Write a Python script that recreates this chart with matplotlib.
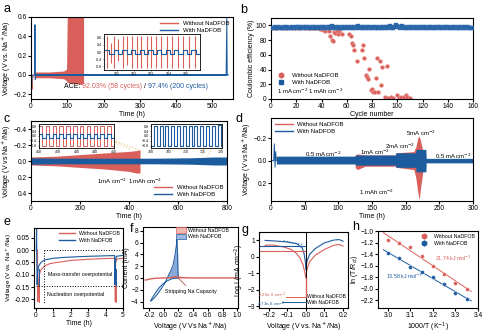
import numpy as np
import matplotlib.pyplot as plt
from matplotlib.offsetbox import TextArea, HPacker, AnchoredOffsetbox
from matplotlib.lines import Line2D
from matplotlib.patches import Patch

plt.rcParams['font.family'] = ['Liberation Sans', 'DejaVu Sans']
plt.rcParams['font.size'] = 5
plt.rcParams['axes.labelsize'] = 5
plt.rcParams['xtick.labelsize'] = 4.8
plt.rcParams['ytick.labelsize'] = 4.8
plt.rcParams['axes.linewidth'] = 0.8
plt.rcParams['xtick.major.size'] = 2
plt.rcParams['ytick.major.size'] = 2
plt.rcParams['xtick.major.pad'] = 1
plt.rcParams['ytick.major.pad'] = 1
plt.rcParams['axes.labelpad'] = 0.8

RED = '#d9605a'
BLUE = '#1c5b9e'
ORANGE = '#f0c27a'

# ---- panel a : long-term voltage profile
a_red_t = [8, 20, 50, 90, 98, 100, 140, 145]
a_red_hi = [0.03, 0.03, 0.03, 0.04, 0.06, 0.6, 0.6, 0.6]
a_red_lo = [-0.03, -0.03, -0.03, -0.04, -0.06, -0.08, -0.1, -0.08]
a_red_start_t = [0, 1, 2, 3, 5, 8]
a_red_start_v = [-0.05, -0.22, -0.1, -0.15, -0.03, 0.0]
a_blue_t = [0, 1, 1.5, 3, 5, 10, 11, 12, 13, 20, 538, 540, 541, 542, 545]
a_blue_v = [-0.2, 0.6, -0.12, -0.02, 0.0, 0.0, 0.52, -0.05, 0.0, 0.0, 0.0, 0.6, 0.0, 0.0, 0.0]
a_ins_blue = [0.12, -0.12, 0.12, -0.12, 0.12, -0.12, 0.12, -0.12, 0.12, -0.12, 0.12, -0.12,
              0.12, -0.12, 0.12, -0.12, 0.12, -0.12, 0.12, -0.12, 0.12, -0.12, 0.12]
a_ins_red_x = [0.3, 1.0, 1.6, 2.3, 3.1, 3.8, 4.6, 5.5, 6.3, 7.2, 8.0, 8.9, 9.8, 10.7, 11.7, 12.6, 13.6, 14.5, 15.6]
a_ins_red_hi = [0.9, 0.5, 0.9, 0.7, 0.9, 0.9, 0.9, 0.9, 0.9, 0.9, 0.9, 0.9, 0.9, 0.9, 0.9, 0.9, 0.9, 0.9, 0.9]
a_ins_red_lo = [-0.9, -0.6, -0.9, -0.5, -0.9, -0.7, -0.9, -0.9, -0.9, -0.9, -0.9, -0.9, -0.9, -0.9, -0.9, -0.9, -0.9, -0.9, -0.9]

# ---- panel b : coulombic efficiency
b_blue_ce = [97, 97, 98, 97, 97, 98, 97, 97, 97, 98, 97, 97, 98, 97, 96, 97, 98, 97, 97, 98,
             98, 97, 98, 97, 97, 98, 97, 98, 97, 98, 97, 96, 98, 97, 98, 97, 96, 98, 97, 98,
             97, 98, 96, 97, 98, 97, 98, 99, 97, 96, 98, 97, 98, 97, 97, 98, 96, 97, 98, 97,
             98, 97, 98, 96, 97, 98, 97, 98, 99, 97, 98, 97, 96, 98, 97, 98, 97, 98, 97, 96,
             98, 97, 98, 97, 97, 98, 97, 96, 98, 97, 98, 97, 98, 99, 97, 98, 97, 98, 100, 99,
             98, 97, 98, 99, 97, 98, 97, 96, 98, 97, 98, 97, 98, 97, 96, 98, 97, 98, 97, 98,
             97, 98, 97, 96, 98, 97, 98, 97, 96, 98, 97, 98, 97, 98, 97, 96, 98, 97, 98, 97,
             98, 97, 96, 98, 97, 98, 97, 96, 98, 97, 98, 97, 96, 98, 97, 98, 97, 96, 97, 96]
b_red_n = [1, 3, 5, 7, 9, 11, 13, 15, 17, 19, 21, 23, 25, 27, 29, 31, 33, 35, 37, 39,
           40, 41, 42, 43, 44, 46, 47, 48, 49, 50, 51, 52, 53, 54, 55, 56, 62, 63, 64, 65,
           66, 68, 72, 73, 74, 75, 76, 77, 78, 79, 80, 81, 82, 83, 84, 85, 86, 87, 88, 90,
           92, 93, 95, 97, 100, 101, 103, 105, 107, 108, 110]
b_red_ce = [97, 97, 97, 98, 97, 97, 97, 98, 97, 97, 97, 97, 98, 97, 97, 97, 96, 97, 97, 95,
            97, 94, 97, 92, 96, 93, 86, 80, 79, 91, 90, 94, 88, 92, 95, 88, 88, 85, 76, 74,
            67, 52, 66, 73, 56, 33, 30, 27, 41, 12, 14, 10, 9, 28, 55, 9, 52, 19, 44, 3,
            45, 2, 3, 2, 5, 2, 3, 3, 6, 3, 2]

# ---- panel c : symmetric cell 1 mA cm-2
c_red_t = [0, 100, 200, 300, 400, 430, 445]
c_red_top = [-0.05, -0.06, -0.08, -0.1, -0.12, -0.13, -0.14]
c_red_bot = [0.05, 0.06, 0.08, 0.1, 0.13, 0.15, 0.15]
c_blue_t = [0, 100, 300, 500, 650, 750, 800]
c_blue_top = [-0.04, -0.035, -0.035, -0.035, -0.04, -0.05, -0.05]
c_blue_bot = [0.04, 0.035, 0.035, 0.035, 0.04, 0.05, 0.05]
c_ins1_red = [0.8, -0.8, 0.8, -0.8, 0.8, -0.8, 0.8, -0.8, 0.8, -0.8, 0.8, -0.8, 0.8, -0.8,
              0.8, -0.8, 0.8, -0.8, 0.8, -0.8, 0.8, -0.8, 0.8]
c_ins1_blue = [0.15, -0.15, 0.15, -0.15, 0.15, -0.15, 0.15, -0.15, 0.15, -0.15, 0.15, -0.15,
               0.15, -0.15, 0.15, -0.15, 0.15, -0.15, 0.15, -0.15, 0.15, -0.15, 0.15]
c_ins2_blue = [-0.8, 0.8, -0.8, 0.8, -0.8, 0.8, -0.8, 0.8, -0.8, 0.8, -0.8, 0.8, -0.8,
               0.8, -0.8, 0.8, -0.8, 0.8, -0.8, 0.8, -0.8, 0.85, -0.8, 0.9, -0.8]

# ---- panel d : rate performance
d_blue_t = [8, 125, 125.5, 185, 185.5, 215, 215.5, 230, 230.5, 300]
d_blue_top = [-0.04, -0.04, -0.05, -0.05, -0.07, -0.07, -0.1, -0.1, -0.02, -0.02]
d_blue_bot = [0.03, 0.03, 0.04, 0.04, 0.06, 0.06, 0.1, 0.1, 0.02, 0.02]
d_red_t = [125, 128, 140, 185, 186, 212, 215, 218, 220, 222, 225, 226]
d_red_top = [-0.05, -0.06, -0.05, -0.05, -0.07, -0.08, -0.12, -0.2, -0.22, -0.18, -0.1, -0.02]
d_red_bot = [0.06, 0.08, 0.05, 0.05, 0.06, 0.08, 0.15, 0.28, 0.35, 0.25, 0.12, 0.02]
d_spike_t = [2, 4, 5, 6, 7, 8]
d_spike_v = [0.0, 0.0, -0.15, 0.06, -0.08, 0.0]

# ---- panel e : nucleation / mass-transfer
e_red_t = [0.1, 0.12, 0.15, 0.2, 0.3, 0.5, 0.8, 1.2, 2, 3, 4, 4.55, 4.56, 4.58, 4.65, 5]
e_red_v = [0.0, -0.21, -0.15, -0.1, -0.08, -0.065, -0.055, -0.05, -0.042, -0.037, -0.034,
           -0.033, -0.21, -0.05, -0.036, -0.033]
e_blue_t = [0.03, 0.05, 0.06, 0.08, 0.1, 0.15, 0.2, 0.3, 0.5, 1, 1.5, 2, 3, 4, 4.52,
            4.54, 4.56, 4.62, 5]
e_blue_v = [0.0, 0.095, -0.05, -0.14, -0.1, -0.07, -0.06, -0.05, -0.04, -0.033, -0.03,
            -0.028, -0.025, -0.023, -0.022, -0.14, -0.05, -0.025, -0.021]

# ---- panel f : CV
f_blue_v = [0.2, 0.15, 0.1, 0.05, 0.0, -0.05, -0.1, -0.14, -0.17, -0.175, -0.16, -0.12,
            -0.08, -0.03, 0.02, 0.06, 0.1, 0.13, 0.15, 0.165, 0.175, 0.18, 0.19, 0.195, 0.2]
f_blue_i = [0.0, -0.05, -0.2, -0.5, -0.9, -1.5, -2.3, -3.1, -3.7, -3.95, -3.8, -3.3,
            -2.7, -1.8, -0.8, 0.3, 1.3, 2.3, 3.6, 4.8, 5.8, 6.6, 4.0, 1.0, 0.0]
f_red_v = [-0.25, -0.22, -0.18, -0.1, 0.0, 0.1, 0.15, 0.2, 0.25, 0.4, 0.6, 0.8, 1.0]
f_red_i = [-0.35, -0.3, -0.15, -0.05, 0.0, 0.05, 0.2, 0.15, 0.05, 0.0, 0.0, 0.0, 0.0]

# ---- panel g : Tafel
g_red_v = [-0.22, -0.18, -0.12, -0.08, -0.05, -0.03, -0.015, -0.005, 0.0, 0.005, 0.02,
           0.05, 0.1, 0.15, 0.18, 0.2]
g_red_l = [0.7, 0.72, 0.6, 0.45, 0.2, -0.1, -0.5, -1.0, -1.3, -0.8, -0.3, 0.1, 0.45,
           0.7, 0.75, 0.65]
g_blue_v = [-0.22, -0.15, -0.1, -0.05, -0.02, -0.01, -0.003, 0.0, 0.005, 0.02, 0.05,
            0.1, 0.15, 0.18, 0.2]
g_blue_l = [1.0, 0.95, 0.9, 0.8, 0.55, 0.2, -0.3, -0.8, -0.3, 0.15, 0.5, 0.85, 1.02,
            1.05, 0.95]

# ---- panel h : Arrhenius
h_x = [3.0, 3.05, 3.1, 3.15, 3.2, 3.25, 3.3, 3.35]
h_red = [-1.15, -1.2, -1.28, -1.43, -1.6, -1.74, -1.89, -2.0]
h_blue = [-1.38, -1.47, -1.62, -1.7, -1.8, -1.92, -2.07, -2.17]

W, H = 487, 334
fig = plt.figure(figsize=(W / 100, H / 100), dpi=100)


def px_axes(l, t, r, b):
    return fig.add_axes([l / W, 1 - b / H, (r - l) / W, (b - t) / H])


def label(x, y, s):
    fig.text(x / W, 1 - y / H, s, fontsize=9, va='center', ha='left')


def tiny(ax):
    ax.tick_params(labelsize=2.5, length=1, width=0.4, pad=0.5)
    for s in ax.spines.values():
        s.set_linewidth(0.6)


def two_lines(ax, loc, fs=4.3, **kw):
    ax.legend(handles=[Line2D([], [], color=RED, lw=1), Line2D([], [], color=BLUE, lw=1)],
              labels=['Without NaDFOB', 'With NaDFOB'], loc=loc, frameon=False,
              fontsize=fs, handlelength=3, borderaxespad=0.2, labelspacing=0.3, **kw)


# a
ax = px_axes(31, 17, 233, 99)
ax.fill_between(a_red_t, a_red_lo, a_red_hi, color=RED, lw=0)
ax.plot(a_red_start_t, a_red_start_v, color=RED, lw=0.6)
ax.fill_between([10, 540], [-0.012, -0.012], [0.012, 0.012], color=BLUE, lw=0)
ax.plot(a_blue_t, a_blue_v, color=BLUE, lw=0.7)
ax.set_xlim(0, 557)
ax.set_ylim(-0.25, 0.6)
ax.set_xticks([0, 100, 200, 300, 400, 500])
ax.set_yticks([-0.2, 0.0, 0.2, 0.4, 0.6])
ax.set_xlabel('Time (h)')
ax.set_ylabel('Voltage (V vs. Na$^+$/Na)')
two_lines(ax, 'upper right')
parts = [TextArea('ACE: ', textprops=dict(color='k', fontsize=5)),
         TextArea('92.03% (58 cycles)', textprops=dict(color=RED, fontsize=5)),
         TextArea(' / ', textprops=dict(color='k', fontsize=5)),
         TextArea('97.4% (200 cycles)', textprops=dict(color=BLUE, fontsize=5))]
box = AnchoredOffsetbox(loc='lower center', child=HPacker(children=parts, pad=0, sep=0),
                        frameon=False, bbox_to_anchor=(0.52, 0.03), bbox_transform=ax.transAxes)
ax.add_artist(box)
label(3, 9, 'a')

ins = px_axes(104, 34, 200, 70)
ins.vlines(a_ins_red_x, a_ins_red_lo, a_ins_red_hi, color=RED, lw=0.8)
ins.step(np.arange(len(a_ins_blue)) * 0.75, a_ins_blue, where='post', color=BLUE, lw=0.8)
ins.set_xlim(-0.2, 16.5)
ins.set_ylim(-1, 1)
ins.set_xticks([2, 5, 8, 11, 14])
ins.set_xticklabels(['101', '102', '103', '104', '105'])
ins.set_yticks([-0.8, -0.4, 0.0, 0.4, 0.8])
ins.set_yticklabels(['-0.8', '-0.4', '0.0', '0.4', '0.8'])
tiny(ins)

# b
ax = px_axes(271, 18, 473, 99)
ax.scatter(np.arange(1, len(b_blue_ce) + 1), b_blue_ce, s=6, marker='s', color=BLUE,
           edgecolors='#4a7fbf', linewidths=0.3, zorder=3)
ax.scatter(b_red_n, b_red_ce, s=9, marker='h', color=RED, edgecolors='#e89490',
           linewidths=0.4, zorder=2)
ax.set_xlim(0, 160)
ax.set_ylim(0, 110)
ax.set_xticks(range(0, 161, 20))
ax.set_yticks(range(0, 101, 20))
ax.set_xlabel('Cycle number')
ax.set_ylabel('Coulombic efficiency (%)')
ax.legend(handles=[Line2D([], [], marker='h', color=RED, ls='', ms=3.5),
                   Line2D([], [], marker='s', color=BLUE, ls='', ms=3)],
          labels=['Without NaDFOB', 'With NaDFOB'], loc='lower left', frameon=False,
          fontsize=4.3, bbox_to_anchor=(0.0, 0.12), borderaxespad=0.3, labelspacing=0.3,
          handletextpad=0.8)
ax.text(0.03, 0.06, '1 mA cm$^{-2}$ 1 mAh cm$^{-2}$', transform=ax.transAxes, fontsize=4.3)
label(240, 10, 'b')

# c
ax = px_axes(31, 121, 227, 201)
ax.fill_between(c_red_t, c_red_bot, c_red_top, color=RED, lw=0)
ax.fill_between(c_blue_t, c_blue_bot, c_blue_top, color=BLUE, lw=0)
ax.set_xlim(0, 800)
ax.set_ylim(0.5, -0.5)
ax.set_xticks([0, 200, 400, 600, 800])
ax.set_yticks([-0.4, -0.2, 0.0, 0.2, 0.4])
ax.set_xlabel('Time (h)')
ax.set_ylabel('Voltage (V vs Na$^+$/Na)')
ax.plot([268, 410], [-0.34, -0.14], color=ORANGE, ls=':', lw=0.8)
ax.plot([268, 440], [-0.34, -0.14], color=ORANGE, ls=':', lw=0.8)
ax.plot([710, 700], [-0.32, -0.06], color=ORANGE, ls=':', lw=0.8)
ax.plot([770, 720], [-0.32, -0.06], color=ORANGE, ls=':', lw=0.8)
ax.text(400, 0.28, '1mA cm$^{-2}$  1mAh cm$^{-2}$', fontsize=4.3, ha='center')
two_lines(ax, 'lower right')
label(3, 119, 'c')

ins = px_axes(39, 124, 114, 148)
ins.step(np.arange(len(c_ins1_red)), c_ins1_red, where='post', color=RED, lw=0.7)
ins.step(np.arange(len(c_ins1_blue)), c_ins1_blue, where='post', color=BLUE, lw=0.8)
ins.set_xlim(0, 22)
ins.set_ylim(-1, 1)
ins.set_xticks([0, 5.5, 11, 16.5, 22])
ins.set_xticklabels(['410', '420', '430', '440', '450'])
ins.set_yticks([-0.8, -0.4, 0, 0.4, 0.8])
tiny(ins)

ins = px_axes(151, 124, 222, 148)
ins.step(np.arange(len(c_ins2_blue)), c_ins2_blue, where='post', color=BLUE, lw=0.8)
ins.set_xlim(0, 24.5)
ins.set_ylim(-1, 1)
ins.set_xticks([0, 6, 12, 18, 24])
ins.set_xticklabels(['700', '705', '710', '715', '720'])
ins.set_yticks([-0.8, -0.4, 0, 0.4, 0.8])
tiny(ins)

# d
ax = px_axes(271, 118, 473, 201)
ax.fill_between(d_red_t, d_red_bot, d_red_top, color=RED, lw=0)
ax.fill_between(d_blue_t, d_blue_bot, d_blue_top, color=BLUE, lw=0)
ax.plot(d_spike_t, d_spike_v, color=BLUE, lw=0.7)
ax.set_xlim(0, 300)
ax.set_ylim(0.36, -0.38)
ax.set_xticks(range(0, 301, 50))
ax.set_yticks([-0.2, 0.0, 0.2])
ax.set_xlabel('Time (h)')
ax.set_ylabel('Voltage (V vs Na$^+$/Na)')
for tx, ty, s in [(78, -0.06, '0.5 mA cm$^{-2}$'), (155, -0.07, '1mA cm$^{-2}$'),
                  (192, -0.13, '2mA cm$^{-2}$'), (222, -0.24, '5mA cm$^{-2}$'),
                  (271, -0.04, '0.5 mA cm$^{-2}$'), (156, 0.28, '1 mAh cm$^{-2}$')]:
    ax.text(tx, ty, s, fontsize=4.3, ha='center', va='center')
two_lines(ax, 'upper left')
label(236, 119, 'd')

# e
ax = px_axes(34, 228, 123, 308)
ax.plot(e_red_t, e_red_v, color=RED, lw=0.8)
ax.plot(e_blue_t, e_blue_v, color=BLUE, lw=0.8)
ax.plot([0.45, 5], [0, 0], color='k', ls=':', lw=0.7)
ax.plot([0.0, 5], [-0.145, -0.145], color='k', ls=':', lw=0.7)
ax.plot([0.45, 0.45], [0, -0.22], color='k', ls=':', lw=0.7)
for bx in [0.2, 4.6]:
    ax.plot([bx, bx], [-0.075, -0.14], color=BLUE, lw=0.7)
    ax.plot([bx, bx], [-0.15, -0.21], color=RED, lw=0.7)
ax.text(2.55, -0.1, 'Mass-transfer overpotential', fontsize=3.8, ha='center', va='center')
ax.text(2.3, -0.18, 'Nucleation overpotential', fontsize=3.8, ha='center', va='center')
ax.set_xlim(-0.1, 5)
ax.set_ylim(-0.235, 0.09)
ax.set_xticks(range(0, 6))
ax.set_yticks([-0.2, -0.15, -0.1, -0.05, 0.0, 0.05])
ax.set_yticklabels(['-0.20', '-0.15', '-0.10', '-0.05', '0.00', '0.05'])
ax.set_xlabel('Time (h)')
ax.set_ylabel('Voltage (V vs. Na$^+$/Na)', fontsize=4.6)
two_lines(ax, 'upper right', fs=3.8)
label(3, 222, 'e')

# f
ax = px_axes(143, 227, 238, 308)
ax.fill(f_blue_v, f_blue_i, color='#d3e0f2', lw=0)
ax.fill_between(f_blue_v[14:], 0, np.clip(f_blue_i[14:], 0, None), color='#88a8d8', lw=0)
ax.plot(f_blue_v, f_blue_i, color=BLUE, lw=0.7)
ax.fill_between(f_red_v[5:9], 0, f_red_i[5:9], color=RED, lw=0, alpha=0.6)
ax.plot(f_red_v, f_red_i, color=RED, lw=1)
ax.plot([0.2, 0.3], [0.0, -1.3], color='#b0584f', lw=0.6)
ax.text(0.37, -2.3, 'Stripping Na Capacity', fontsize=3.8, ha='center', va='center')
ax.set_xlim(-0.28, 1.01)
ax.set_ylim(-5.1, 8.65)
ax.set_xticks([-0.2, 0.0, 0.2, 0.4, 0.6, 0.8, 1.0])
ax.set_xticklabels(['-0.2', '0.0', '0.2', '0.4', '0.6', '0.8', '1.0'])
ax.set_yticks([-4, -2, 0, 2, 4, 6, 8])
ax.set_xlabel('Voltage (V Vs Na$^+$/Na)')
ax.set_ylabel('Current (mA)')
ax.legend(handles=[Patch(facecolor='#f2b8b4', edgecolor=RED, lw=0.5),
                   Patch(facecolor='#9fb8e0', edgecolor=BLUE, lw=0.5)],
          labels=['Without NaDFOB', 'With NaDFOB'], loc='upper left', frameon=False,
          fontsize=3.8, bbox_to_anchor=(0.32, 1.02), handlelength=2, handleheight=1.2,
          labelspacing=0.15, handletextpad=0.3, borderaxespad=0)
label(130, 229, 'f')

# g
ax = px_axes(259, 232, 348, 308)
ax.plot(g_red_v, g_red_l, color=RED, lw=0.8)
ax.plot(g_blue_v, g_blue_l, color=BLUE, lw=0.8)
ax.plot([-0.25, 0], [0.33, 0.33], color=RED, lw=0.8)
ax.plot([-0.25, 0], [0.66, 0.66], color=BLUE, lw=0.8)
ax.plot([-0.12, -0.02], [0.98, 0.75], color=BLUE, ls=':', lw=0.8)
ax.axvline(0, color='k', lw=0.7)
ax.plot([0, 0], [-1.3, -2.43], color=RED, lw=1)
ax.plot([-0.11, 0], [-2.43, -2.43], color=RED, lw=0.7)
ax.plot([-0.13, 0], [-2.72, -2.72], color=BLUE, lw=0.7)
ax.text(-0.18, -2.36, '2.25e-6 cm$^{-2}$', color=RED, fontsize=3.2, ha='center', va='center')
ax.text(-0.19, -2.88, '4.73e-6 cm$^{-2}$', color=BLUE, fontsize=3.2, ha='center', va='center')
ax.text(0.006, -2.43, 'Without NaDFOB', fontsize=3.6, va='center')
ax.text(0.006, -2.76, 'With NaDFOB', fontsize=3.6, va='center')
ax.set_xlim(-0.253, 0.227)
ax.set_ylim(-3.11, 1.51)
ax.set_xticks([-0.2, -0.1, 0.0, 0.1, 0.2])
ax.set_yticks([-3, -2, -1, 0, 1])
ax.set_xlabel('Voltage (V vs. Na$^+$/Na)')
ax.set_ylabel('Log I (mA cm$^{-2}$)')
label(241, 230, 'g')

# h
ax = px_axes(378, 231, 478, 308)
for ys, c in [(h_red, RED), (h_blue, BLUE)]:
    k, b0 = np.polyfit(h_x, ys, 1)
    ax.plot([2.98, 3.37], [k * 2.98 + b0, k * 3.37 + b0], color=c, lw=0.7)
    ax.scatter(h_x, ys, s=10, marker='h', color=c, edgecolors='white', linewidths=0.3, zorder=3)
ax.text(3.21, -1.52, '21.74 kJ mol$^{-1}$', color=RED, fontsize=3.8)
ax.text(2.99, -1.83, '13.58 kJ mol$^{-1}$', color=BLUE, fontsize=3.8)
ax.set_xlim(2.956, 3.4)
ax.set_ylim(-2.33, -1.0)
ax.set_xticks([3.0, 3.1, 3.2, 3.3, 3.4])
ax.set_yticks([-2.2, -2.0, -1.8, -1.6, -1.4, -1.2, -1.0])
ax.set_xlabel('1000/T (K$^{-1}$)')
ax.set_ylabel('ln (T/R$_{ct}$)')
ax.legend(handles=[Line2D([], [], marker='h', color=RED, ls='', ms=3.5),
                   Line2D([], [], marker='h', color=BLUE, ls='', ms=3.5)],
          labels=['Without NaDFOB', 'With NaDFOB'], loc='upper right', frameon=False,
          fontsize=3.8, borderaxespad=0.2, labelspacing=0.3)
label(352, 227, 'h')

fig.savefig('out.png', dpi=100)
